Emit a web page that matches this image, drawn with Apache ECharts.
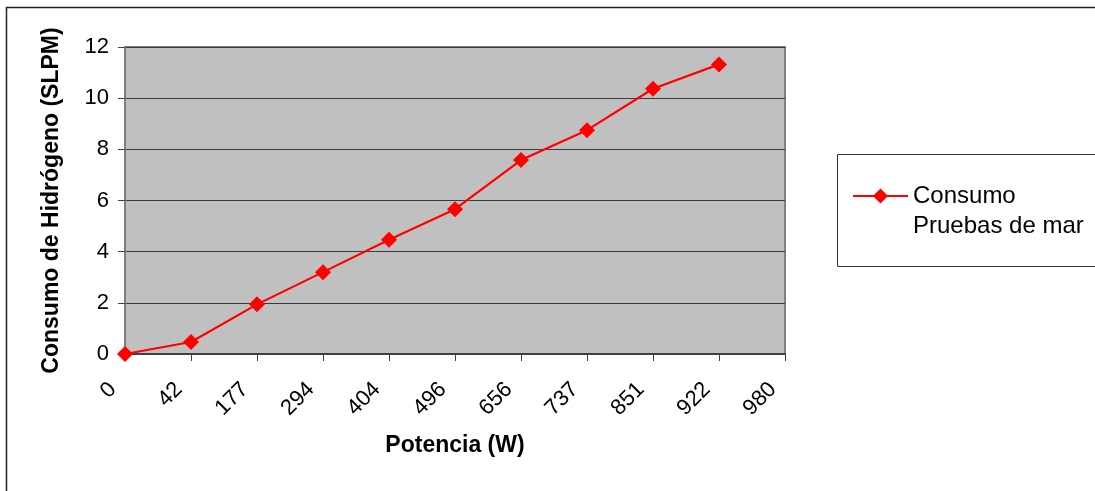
<!DOCTYPE html>
<html>
<head>
<meta charset="utf-8">
<script src="https://cdn.jsdelivr.net/npm/echarts@6/dist/echarts.min.js"></script>
<style>
  html, body { margin: 0; padding: 0; background: #ffffff; }
  #chart { width: 1095px; height: 491px; }
</style>
</head>
<body>
<div id="chart"></div>
<script>
// Power levels (W) on the category axis
const potencia = ['0', '42', '177', '294', '404', '496', '656', '737', '851', '922', '980'];
// Hydrogen consumption (SLPM) measured at each power level
const consumo = [0, 0.47, 1.94, 3.2, 4.47, 5.66, 7.58, 8.75, 10.37, 11.32, null];
const serieNombre = 'Consumo Pruebas de mar';
const yTicks = { min: 0, max: 12, interval: 2 };

const FONT = '"Liberation Sans", Arial, sans-serif';

const chart = echarts.init(document.getElementById('chart'), null, { renderer: 'canvas' });

chart.setOption({
  animation: false,
  backgroundColor: '#ffffff',
  textStyle: { fontFamily: FONT, color: '#000' },
  grid: {
    left: 125, right: 310, top: 47, bottom: 137,
    show: true,
    backgroundColor: '#c0c0c0',
    borderColor: '#808080',
    borderWidth: 2,
    containLabel: false
  },
  graphic: [
    // outer chart frame (runs off the right and bottom edges)
    {
      type: 'polyline', silent: true, z: -1,
      shape: { points: [[6.5, 1000], [6.5, 7.5], [2000, 7.5]] },
      style: { fill: null, stroke: '#222', lineWidth: 1.5 }
    },
    // legend frame
    {
      type: 'polygon', silent: true, z: 0,
      shape: { points: [[2000, 154.5], [837.5, 154.5], [837.5, 266.5], [2000, 266.5]] },
      style: { fill: '#fff', stroke: null }
    },
    {
      type: 'polyline', silent: true, z: 0,
      shape: { points: [[2000, 154.5], [837.5, 154.5], [837.5, 266.5], [2000, 266.5]] },
      style: { fill: null, stroke: '#333', lineWidth: 1 }
    }
  ],
  legend: {
    show: true,
    left: 852, top: 151,
    padding: 0,
    orient: 'vertical',
    itemWidth: 55,
    itemHeight: 19,
    itemGap: 0,
    data: [serieNombre],
    // blank first line keeps the marker level with "Consumo"
    formatter: function (name) {
      return '\n' + name.replace(' Pruebas', '\nPruebas');
    },
    textStyle: {
      fontFamily: FONT, fontSize: 24, color: '#000',
      lineHeight: 30
    }
  },
  xAxis: {
    type: 'category',
    data: potencia,
    boundaryGap: false,
    name: 'Potencia (W)',
    nameLocation: 'middle',
    nameGap: 80,
    nameTextStyle: { fontFamily: FONT, fontSize: 23, fontWeight: 'bold', color: '#000' },
    axisLine: { show: true, lineStyle: { color: '#404040', width: 2 } },
    axisTick: { show: true, length: 7, lineStyle: { color: '#404040', width: 1 } },
    axisLabel: {
      rotate: 45, margin: 20, interval: 0,
      padding: [0, 17, 0, 0],
      fontFamily: FONT, fontSize: 22, color: '#000'
    },
    splitLine: { show: false }
  },
  yAxis: {
    type: 'value',
    min: yTicks.min, max: yTicks.max, interval: yTicks.interval,
    name: 'Consumo de Hidrógeno (SLPM)',
    nameLocation: 'middle',
    nameGap: 62,
    nameRotate: 90,
    nameTextStyle: { fontFamily: FONT, fontSize: 23, fontWeight: 'bold', color: '#000' },
    axisLine: { show: true, lineStyle: { color: '#808080', width: 2 } },
    axisTick: { show: true, length: 7, lineStyle: { color: '#404040', width: 1 } },
    axisLabel: { margin: 16, fontFamily: FONT, fontSize: 22, color: '#000' },
    splitLine: { show: true, lineStyle: { color: '#3a3a3a', width: 1 } }
  },
  series: [
    {
      name: serieNombre,
      type: 'line',
      data: consumo,
      connectNulls: false,
      symbol: 'diamond',
      symbolSize: 16,
      showAllSymbol: true,
      clip: false,
      lineStyle: { color: '#ff0000', width: 2.2 },
      itemStyle: { color: '#ff0000' },
      z: 3
    }
  ]
});
</script>
</body>
</html>
